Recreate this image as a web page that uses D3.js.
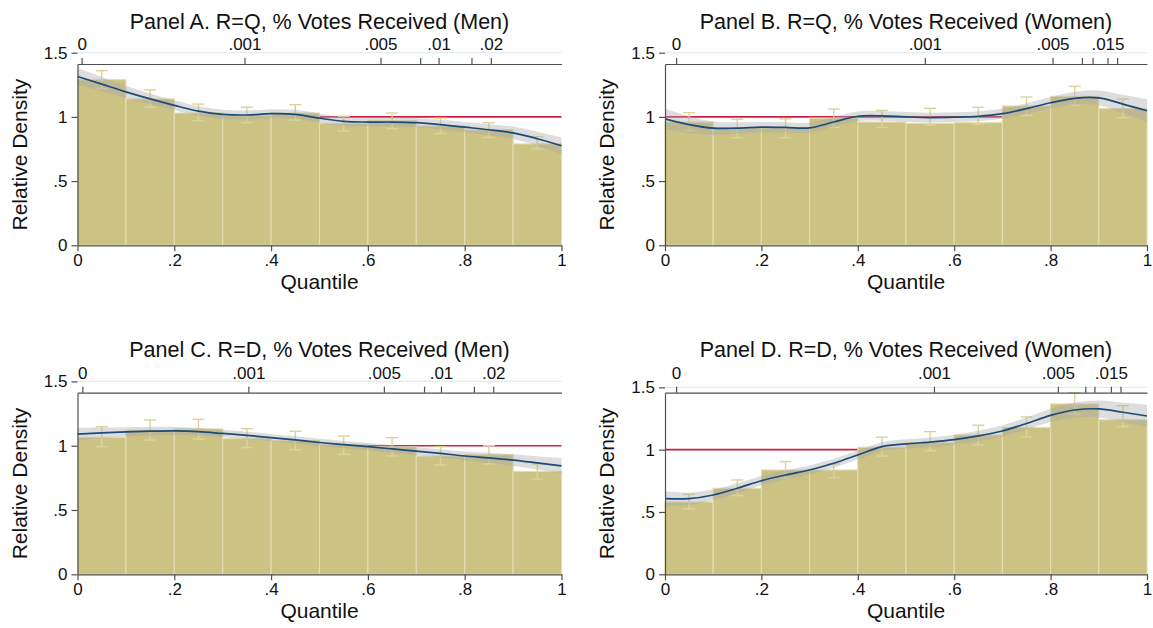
<!DOCTYPE html>
<html>
<head>
<meta charset="utf-8">
<script src="https://cdn.jsdelivr.net/npm/d3@7"></script>
<style>
  body { margin: 0; background: #fff; }
  text { font-family: "Liberation Sans", Arial, sans-serif; fill: #111; }
</style>
</head>
<body>
<svg id="chart" width="1153" height="628"></svg>
<script>
// ---------------- data ----------------
var titles = [
  "Panel A. R=Q, % Votes Received (Men)",
  "Panel B. R=Q, % Votes Received (Women)",
  "Panel C. R=D, % Votes Received (Men)",
  "Panel D. R=D, % Votes Received (Women)"
];
var binStart = [0, .1, .2, .3, .4, .5, .6, .7, .8, .9];
var smoothX = [0, .05, .1, .15, .2, .25, .3, .35, .4, .45, .5, .55, .6, .65, .7, .75, .8, .85, .9, .95, 1];
var yTicks = [0, .5, 1, 1.5];
var xTicks = [0, .2, .4, .6, .8, 1];
var yTop = [1.412, 1.412, 1.412, 1.457];

// histogram bars (relative density per decile)
var barsA = [1.29, 1.14, 1.03, 1.01, 1.03, 0.95, 0.97, 0.93, 0.90, 0.79];
var barsB = [0.96, 0.915, 0.915, 0.99, 0.96, 0.95, 0.955, 1.085, 1.16, 1.065];
var barsC = [1.065, 1.12, 1.13, 1.055, 1.04, 1.01, 0.99, 0.92, 0.93, 0.80];
var barsD = [0.58, 0.69, 0.837, 0.837, 1.02, 1.056, 1.118, 1.178, 1.367, 1.24];

// confidence interval of each bar
var errLoA = [1.22, 1.075, 0.97, 0.955, 0.975, 0.89, 0.91, 0.87, 0.84, 0.75];
var errHiA = [1.36, 1.21, 1.10, 1.075, 1.095, 1.005, 1.03, 0.99, 0.955, 0.845];
var errLoB = [0.893, 0.838, 0.838, 0.919, 0.919, 0.937, 0.942, 1.012, 1.093, 0.994];
var errHiB = [1.033, 0.981, 0.985, 1.061, 1.051, 1.067, 1.075, 1.155, 1.238, 1.139];
var errLoC = [0.992, 1.044, 1.05, 0.985, 0.967, 0.933, 0.92, 0.85, 0.858, 0.741];
var errHiC = [1.148, 1.20, 1.205, 1.132, 1.112, 1.075, 1.062, 0.992, 1.0, 0.858];
var errLoD = [0.524, 0.631, 0.77, 0.775, 0.949, 0.992, 1.038, 1.10, 1.284, 1.185];
var errHiD = [0.642, 0.757, 0.904, 0.885, 1.10, 1.145, 1.196, 1.263, 1.457, 1.353];

// smoothed density and half-width of its band
var smoothA = [1.315, 1.255, 1.195, 1.14, 1.09, 1.045, 1.02, 1.015, 1.025, 1.02, 0.99, 0.965, 0.96, 0.96, 0.955, 0.94, 0.92, 0.90, 0.875, 0.83, 0.775];
var smoothB = [0.985, 0.94, 0.912, 0.913, 0.92, 0.918, 0.915, 0.96, 1.005, 1.008, 1.0, 0.995, 0.998, 1.005, 1.025, 1.065, 1.11, 1.145, 1.148, 1.10, 1.048];
var smoothC = [1.09, 1.10, 1.108, 1.113, 1.115, 1.11, 1.095, 1.08, 1.063, 1.045, 1.025, 1.008, 0.992, 0.975, 0.958, 0.94, 0.92, 0.905, 0.888, 0.866, 0.843];
var smoothD = [0.607, 0.607, 0.636, 0.69, 0.751, 0.797, 0.837, 0.891, 0.957, 1.024, 1.046, 1.06, 1.08, 1.11, 1.15, 1.21, 1.275, 1.318, 1.327, 1.30, 1.27];
var bandA = [0.065, 0.055, 0.047, 0.042, 0.039, 0.037, 0.036, 0.035, 0.035, 0.035, 0.035, 0.035, 0.035, 0.035, 0.036, 0.038, 0.04, 0.043, 0.048, 0.055, 0.065];
var bandB = [0.08, 0.065, 0.052, 0.045, 0.042, 0.04, 0.039, 0.039, 0.038, 0.038, 0.038, 0.038, 0.038, 0.039, 0.04, 0.042, 0.045, 0.05, 0.058, 0.072, 0.09];
var bandC = [0.05, 0.042, 0.036, 0.033, 0.031, 0.03, 0.029, 0.029, 0.028, 0.028, 0.028, 0.028, 0.028, 0.029, 0.03, 0.032, 0.035, 0.04, 0.045, 0.052, 0.06];
var bandD = [0.06, 0.05, 0.044, 0.04, 0.038, 0.037, 0.036, 0.036, 0.036, 0.036, 0.037, 0.038, 0.04, 0.042, 0.045, 0.048, 0.053, 0.06, 0.068, 0.078, 0.09];

// top axis: vote share values placed at their quantile
var topQA = [0.0085, 0.345, 0.626, 0.708, 0.746, 0.814, 0.854];
var topLabA = ["0", ".001", ".005", "", ".01", "", ".02"];
var topQB = [0.023, 0.539, 0.804, 0.865, 0.887, 0.918, 0.938];
var topLabB = ["0", ".001", ".005", "", "", ".015", ""];
var topQC = [0.010, 0.353, 0.633, 0.716, 0.751, 0.819, 0.859];
var topLabC = ["0", ".001", ".005", "", ".01", "", ".02"];
var topQD = [0.023, 0.558, 0.815, 0.872, 0.891, 0.925, 0.945];
var topLabD = ["0", ".001", ".005", "", "", ".015", ""];

// ---------------- layout ----------------
var panels = [
  {left: 77.5, right: 561.5, top: 64,    bottom: 245.3, bars: barsA, lo: errLoA, hi: errHiA, sm: smoothA, bw: bandA, q: topQA, lab: topLabA},
  {left: 665,  right: 1147,  top: 64,    bottom: 245.3, bars: barsB, lo: errLoB, hi: errHiB, sm: smoothB, bw: bandB, q: topQB, lab: topLabB},
  {left: 77.5, right: 561.5, top: 392.7, bottom: 574.3, bars: barsC, lo: errLoC, hi: errHiC, sm: smoothC, bw: bandC, q: topQC, lab: topLabC},
  {left: 665,  right: 1147,  top: 392.7, bottom: 574.3, bars: barsD, lo: errLoD, hi: errHiD, sm: smoothD, bw: bandD, q: topQD, lab: topLabD}
];

var svg = d3.select("#chart");
var fmt = function (d) { return d === 0 ? "0" : String(d).replace(/^0\./, "."); };
var axisCol = "#505050";

panels.forEach(function (p, i) {
  var x = d3.scaleLinear().domain([0, 1]).range([p.left, p.right]);
  var y = d3.scaleLinear().domain([0, yTop[i]]).range([p.bottom, p.top]);
  var g = svg.append("g");

  // grid lines (only 1.5 shows above the data)
  g.selectAll(".grid").data(yTicks).enter().append("line")
    .attr("x1", x(0)).attr("x2", x(1))
    .attr("y1", function (d) { return y(d); }).attr("y2", function (d) { return y(d); })
    .attr("stroke", "#e3edf0").attr("stroke-width", 1.3);

  // reference line at 1
  g.append("line")
    .attr("x1", x(0)).attr("x2", x(1)).attr("y1", y(1)).attr("y2", y(1))
    .attr("stroke", "#d21f48").attr("stroke-width", 1.6);

  // histogram
  g.selectAll(".bar").data(p.bars).enter().append("rect")
    .attr("x", function (d, j) { return x(binStart[j]); })
    .attr("width", function (d, j) { return x(binStart[j] + .1) - x(binStart[j]); })
    .attr("y", function (d) { return y(d); })
    .attr("height", function (d) { return y(0) - y(d); })
    .attr("fill", "#cbc283").attr("stroke", "#e4ddb0").attr("stroke-width", 1.1);

  // error bars
  var eb = g.selectAll(".eb").data(p.bars).enter().append("g")
    .attr("stroke", "#dcd399").attr("stroke-width", 1.4).attr("fill", "none");
  eb.append("line")
    .attr("x1", function (d, j) { return x(binStart[j] + .05); })
    .attr("x2", function (d, j) { return x(binStart[j] + .05); })
    .attr("y1", function (d, j) { return y(p.lo[j]); })
    .attr("y2", function (d, j) { return y(p.hi[j]); });
  eb.append("line")
    .attr("x1", function (d, j) { return x(binStart[j] + .05) - 6; })
    .attr("x2", function (d, j) { return x(binStart[j] + .05) + 6; })
    .attr("y1", function (d, j) { return y(p.hi[j]); })
    .attr("y2", function (d, j) { return y(p.hi[j]); });
  eb.append("line")
    .attr("x1", function (d, j) { return x(binStart[j] + .05) - 6; })
    .attr("x2", function (d, j) { return x(binStart[j] + .05) + 6; })
    .attr("y1", function (d, j) { return y(p.lo[j]); })
    .attr("y2", function (d, j) { return y(p.lo[j]); });

  // smoothed density with band
  var band = d3.area()
    .x(function (d, j) { return x(smoothX[j]); })
    .y0(function (d, j) { return y(d - p.bw[j]); })
    .y1(function (d, j) { return y(d + p.bw[j]); })
    .curve(d3.curveCatmullRom);
  g.append("path").datum(p.sm).attr("d", band)
    .attr("fill", "#a9a9a9").attr("fill-opacity", 0.4);

  var line = d3.line()
    .x(function (d, j) { return x(smoothX[j]); })
    .y(function (d) { return y(d); })
    .curve(d3.curveCatmullRom);
  g.append("path").datum(p.sm).attr("d", line)
    .attr("fill", "none").attr("stroke", "#1b4b78").attr("stroke-width", 1.7);

  // axes
  var ax = g.append("g").attr("transform", "translate(" + p.left + ",0)")
    .call(d3.axisLeft(y).tickValues(yTicks).tickFormat(fmt).tickSize(6).tickSizeOuter(0).tickPadding(4));
  var bx = g.append("g").attr("transform", "translate(0," + p.bottom + ")")
    .call(d3.axisBottom(x).tickValues(xTicks).tickFormat(fmt).tickSize(6).tickSizeOuter(0).tickPadding(3));
  var tx = g.append("g").attr("transform", "translate(0," + p.top + ")")
    .call(d3.axisTop(x).tickValues(p.q).tickFormat(function (d, j) { return p.lab[j]; })
      .tickSize(6).tickSizeOuter(0).tickPadding(8));
  [ax, bx, tx].forEach(function (a) {
    a.selectAll("path, line").attr("stroke", axisCol).attr("stroke-width", 1.2);
    a.selectAll("text").attr("font-size", "17px").attr("fill", "#111");
  });

  // titles
  g.append("text").attr("x", (p.left + p.right) / 2).attr("y", p.top - 35.5)
    .attr("text-anchor", "middle").attr("font-size", "21.5px").text(titles[i]);
  g.append("text").attr("x", (p.left + p.right) / 2).attr("y", p.bottom + 44)
    .attr("text-anchor", "middle").attr("font-size", "21px").text("Quantile");
  g.append("text")
    .attr("transform", "translate(" + (p.left - 51) + "," + ((p.top + p.bottom) / 2) + ") rotate(-90)")
    .attr("text-anchor", "middle").attr("font-size", "21px").text("Relative Density");
});
</script>
</body>
</html>
